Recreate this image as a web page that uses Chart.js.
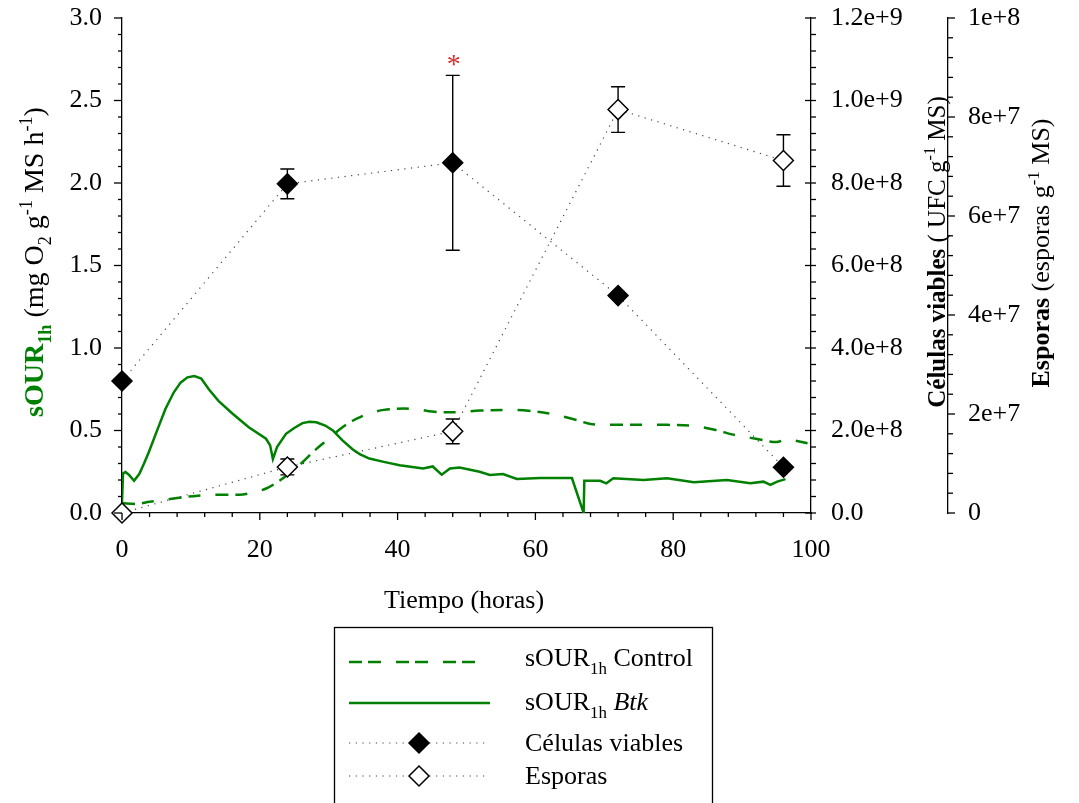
<!DOCTYPE html>
<html>
<head>
<meta charset="utf-8">
<script src="https://cdn.jsdelivr.net/npm/chart.js@4.4.1/dist/chart.umd.min.js"></script>
<style>
  html, body { margin: 0; padding: 0; background: #fff; }
  canvas { display: block; }
</style>
</head>
<body>
<canvas id="chart" width="1079" height="803"></canvas>
<script>
// sOUR1h control (dashed line)
var controlTime = [0, 2, 4, 7, 11, 14, 17, 19, 21, 23, 24, 26, 28, 30, 32, 34, 36, 38, 41, 43, 45, 48, 52, 56, 59, 62, 64, 66, 68, 70, 80, 83, 86, 89, 92, 95, 96.5, 97.5, 99.5];
var controlValue = [0.06, 0.055, 0.068, 0.085, 0.105, 0.11, 0.11, 0.125, 0.15, 0.2, 0.23, 0.3, 0.38, 0.45, 0.52, 0.57, 0.605, 0.625, 0.633, 0.628, 0.615, 0.61, 0.621, 0.625, 0.62, 0.603, 0.585, 0.563, 0.54, 0.535, 0.534, 0.528, 0.505, 0.472, 0.45, 0.43, 0.448, 0.44, 0.423];

// sOUR1h Btk (solid line)
var btkTime = [0, 0.15, 0.5, 1, 1.75, 2.5, 3.2, 3.9, 5, 6.3, 7.5, 8.5, 9.5, 10.5, 11.5, 12.6, 14, 16.1, 18.4, 20.9, 21.5, 21.9, 22.5, 23.8, 25, 26.2, 27.2, 28.2, 29.5, 30.6, 32, 33.5, 34.5, 35.9, 38, 40.3, 43.7, 45.1, 46.4, 47.6, 49, 51.9, 53.4, 55.3, 57.3, 60.7, 65.3, 67, 67.1, 69.4, 70.3, 71.3, 75.7, 79.1, 83, 87.8, 91.2, 93.1, 94.1, 95.1, 96.3];
var btkValue = [0.065, 0.24, 0.248, 0.232, 0.195, 0.236, 0.3, 0.37, 0.49, 0.63, 0.73, 0.79, 0.822, 0.83, 0.815, 0.75, 0.68, 0.6, 0.52, 0.45, 0.41, 0.327, 0.4, 0.48, 0.515, 0.545, 0.553, 0.55, 0.53, 0.5, 0.44, 0.385, 0.357, 0.33, 0.31, 0.29, 0.27, 0.282, 0.232, 0.27, 0.276, 0.25, 0.23, 0.236, 0.206, 0.212, 0.212, 0.0, 0.195, 0.195, 0.18, 0.21, 0.2, 0.21, 0.186, 0.2, 0.18, 0.19, 0.17, 0.19, 0.205];

// sampled points
var sampleTime = [0, 24, 48, 72, 96];
var cellValue = [3.2e8, 7.98e8, 8.49e8, 5.27e8, 1.11e8];
var cellError = [0, 0.36e8, 2.12e8, 0, 0];
var sporeValue = [0, 9.3e6, 1.65e7, 8.15e7, 7.12e7];
var sporeError = [0, 1.6e6, 2.5e6, 4.6e6, 5.2e6];

var xTicks = [0, 20, 40, 60, 80, 100];

var green = '#008000';
var dotColor = '#3c4a3c';
var serif = "'Liberation Serif', 'Times New Roman', Times, serif";

function toPoints(xs, ys) {
  var out = [];
  for (var i = 0; i < xs.length; i++) out.push({ x: xs[i], y: ys[i] });
  return out;
}

function setFont(ctx, size, bold, italic) {
  ctx.font = (italic ? 'italic ' : '') + (bold ? 'bold ' : '') + size + 'px ' + serif;
}

function richWidth(ctx, parts, size) {
  var w = 0;
  parts.forEach(function(p) {
    var s = (p.sub || p.sup) ? size * 0.65 : size;
    setFont(ctx, s, p.b, p.i);
    w += ctx.measureText(p.t).width;
  });
  return w;
}

function drawRich(ctx, parts, x, y, size) {
  ctx.textAlign = 'left';
  ctx.textBaseline = 'alphabetic';
  parts.forEach(function(p) {
    var s = (p.sub || p.sup) ? size * 0.65 : size;
    setFont(ctx, s, p.b, p.i);
    ctx.fillStyle = p.c || '#000';
    var dy = p.sub ? size * 0.3 : (p.sup ? -size * 0.4 : 0);
    ctx.fillText(p.t, x, y + dy);
    x += ctx.measureText(p.t).width;
  });
}

function drawRotated(ctx, parts, baseX, centerY, size) {
  var w = richWidth(ctx, parts, size);
  ctx.save();
  ctx.translate(baseX, centerY);
  ctx.rotate(-Math.PI / 2);
  drawRich(ctx, parts, -w / 2, 0, size);
  ctx.restore();
}

function diamond(ctx, x, y, r, fill) {
  ctx.beginPath();
  ctx.moveTo(x, y - r);
  ctx.lineTo(x + r, y);
  ctx.lineTo(x, y + r);
  ctx.lineTo(x - r, y);
  ctx.closePath();
  ctx.fillStyle = fill;
  ctx.fill();
  ctx.lineWidth = 1.5;
  ctx.strokeStyle = '#000';
  ctx.stroke();
}

// tick marks (major + minor) on each axis
function axisTicks(ctx, scale, major, minorDiv, side) {
  var minor = major / minorDiv;
  ctx.strokeStyle = '#000';
  ctx.lineWidth = 1.3;
  var n = Math.round((scale.max - scale.min) / minor);
  for (var i = 0; i <= n; i++) {
    var v = scale.min + i * minor;
    var isMajor = i % minorDiv === 0;
    var p = scale.getPixelForValue(v);
    ctx.beginPath();
    if (side === 'bottom') {
      ctx.moveTo(p, scale.top);
      ctx.lineTo(p, scale.top + (isMajor ? 7 : 4));
    } else if (side === 'left') {
      ctx.moveTo(scale.right, p);
      ctx.lineTo(scale.right - (isMajor ? 8 : 4), p);
    } else if (side === 'right1') {
      ctx.moveTo(scale.left + (isMajor ? -6 : 0), p);
      ctx.lineTo(scale.left + 5, p);
    } else {
      ctx.moveTo(scale.left, p);
      ctx.lineTo(scale.left + (isMajor ? 7 : 5), p);
    }
    ctx.stroke();
  }
}

var errorBars = {
  id: 'errorBars',
  beforeDatasetsDraw: function(chart) {
    var ctx = chart.ctx;
    var x = chart.scales.x;
    var sets = [[chart.scales.y1, cellValue, cellError], [chart.scales.y2, sporeValue, sporeError]];
    ctx.save();
    ctx.strokeStyle = '#000';
    ctx.lineWidth = 1.4;
    sets.forEach(function(s) {
      for (var i = 0; i < sampleTime.length; i++) {
        if (!s[2][i]) continue;
        var px = x.getPixelForValue(sampleTime[i]);
        var top = s[0].getPixelForValue(s[1][i] + s[2][i]);
        var bot = s[0].getPixelForValue(s[1][i] - s[2][i]);
        ctx.beginPath();
        ctx.moveTo(px, top); ctx.lineTo(px, bot);
        ctx.moveTo(px - 7, top); ctx.lineTo(px + 7, top);
        ctx.moveTo(px - 7, bot); ctx.lineTo(px + 7, bot);
        ctx.stroke();
      }
    });
    ctx.restore();
  },
  afterDraw: function(chart) {
    var ctx = chart.ctx;
    ctx.save();
    axisTicks(ctx, chart.scales.x, 20, 5, 'bottom');
    axisTicks(ctx, chart.scales.y, 0.5, 5, 'left');
    axisTicks(ctx, chart.scales.y1, 2e8, 5, 'right1');
    axisTicks(ctx, chart.scales.y2, 2e7, 5, 'right2');

    // significance mark above the 48 h error bar
    var ax = chart.scales.x.getPixelForValue(48);
    var ay = chart.scales.y1.getPixelForValue(cellValue[2] + cellError[2]);
    setFont(ctx, 28, false, false);
    ctx.fillStyle = '#d42a2a';
    ctx.textAlign = 'center';
    ctx.textBaseline = 'alphabetic';
    ctx.fillText('*', ax + 1, ay - 2);

    // axis titles
    drawRotated(ctx, [
      { t: 'sOUR', b: true, c: green }, { t: '1h', b: true, c: green, sub: true },
      { t: ' (mg O' }, { t: '2', sub: true }, { t: ' g' }, { t: '-1', sup: true },
      { t: ' MS h' }, { t: '-1', sup: true }, { t: ')' }
    ], 43, 262, 28);
    drawRotated(ctx, [
      { t: 'Células viables', b: true }, { t: ' ( UFC g' }, { t: '-1', sup: true }, { t: ' MS)' }
    ], 945, 252, 25);
    drawRotated(ctx, [
      { t: 'Esporas', b: true }, { t: ' (esporas g' }, { t: '-1', sup: true }, { t: ' MS)' }
    ], 1049, 253, 26);

    setFont(ctx, 26, false, false);
    ctx.fillStyle = '#000';
    ctx.textAlign = 'center';
    ctx.fillText('Tiempo (horas)', 464, 608);

    // legend box
    ctx.lineWidth = 1.3;
    ctx.strokeStyle = '#000';
    ctx.strokeRect(334.5, 627.5, 378, 200);

    ctx.strokeStyle = green;
    ctx.lineWidth = 2.5;
    ctx.setLineDash([13, 6, 13, 15]);
    ctx.beginPath(); ctx.moveTo(349, 662); ctx.lineTo(476, 662); ctx.stroke();
    ctx.setLineDash([]);
    ctx.beginPath(); ctx.moveTo(349, 703); ctx.lineTo(490, 703); ctx.stroke();

    ctx.strokeStyle = dotColor;
    ctx.lineWidth = 1.2;
    ctx.setLineDash([1.2, 5.5]);
    ctx.beginPath(); ctx.moveTo(349, 743); ctx.lineTo(488, 743); ctx.stroke();
    ctx.beginPath(); ctx.moveTo(349, 776); ctx.lineTo(488, 776); ctx.stroke();
    ctx.setLineDash([]);
    diamond(ctx, 419, 743, 10, '#000');
    diamond(ctx, 419, 776, 10, '#fff');

    drawRich(ctx, [{ t: 'sOUR' }, { t: '1h', sub: true }, { t: ' Control' }], 525, 666, 26);
    drawRich(ctx, [{ t: 'sOUR' }, { t: '1h', sub: true }, { t: ' ' }, { t: 'Btk', i: true }], 525, 710, 26);
    drawRich(ctx, [{ t: 'Células viables' }], 525, 751, 26);
    drawRich(ctx, [{ t: 'Esporas' }], 525, 784, 26);
    ctx.restore();
  }
};

var tickFont = { family: serif, size: 26 };
var axisBorder = { display: true, color: '#000', width: 1.3 };

// fixed axis sizes so the plot area sits where the original has it
function fixWidth(w) {
  return function(s) { s.width = w; s.paddingTop = 0; s.paddingBottom = 0; };
}

new Chart(document.getElementById('chart'), {
  type: 'line',
  data: {
    datasets: [
      {
        label: 'Células viables',
        data: toPoints(sampleTime, cellValue),
        yAxisID: 'y1',
        clip: false,
        borderColor: dotColor,
        borderWidth: 1.2,
        borderDash: [1.2, 5.5],
        pointStyle: 'rectRot',
        pointRadius: 10,
        pointBackgroundColor: '#000',
        pointBorderColor: '#000',
        pointBorderWidth: 1.5
      },
      {
        label: 'Esporas',
        data: toPoints(sampleTime, sporeValue),
        yAxisID: 'y2',
        clip: false,
        borderColor: dotColor,
        borderWidth: 1.2,
        borderDash: [1.2, 5.5],
        pointStyle: 'rectRot',
        pointRadius: 10,
        pointBackgroundColor: '#fff',
        pointBorderColor: '#000',
        pointBorderWidth: 1.5
      },
      {
        label: 'sOUR1h Btk',
        data: toPoints(btkTime, btkValue),
        yAxisID: 'y',
        borderColor: green,
        borderWidth: 2.5,
        pointRadius: 0,
        tension: 0
      },
      {
        label: 'sOUR1h Control',
        data: toPoints(controlTime, controlValue),
        yAxisID: 'y',
        borderColor: green,
        borderWidth: 2.5,
        borderDash: [13, 7, 12, 15],
        pointRadius: 0,
        cubicInterpolationMode: 'monotone'
      }
    ]
  },
  options: {
    responsive: false,
    animation: false,
    layout: { padding: { top: 18, bottom: 200, left: 0, right: 0 } },
    plugins: { legend: { display: false }, tooltip: { enabled: false } },
    scales: {
      x: {
        type: 'linear', position: 'bottom', min: 0, max: 100,
        grid: { display: false, drawTicks: false },
        border: axisBorder,
        afterBuildTicks: function(s) { s.ticks = xTicks.map(function(v) { return { value: v }; }); },
        ticks: { font: tickFont, color: '#000', padding: 22, maxRotation: 0, autoSkip: false },
        afterFit: function(s) { s.height = 90; s.paddingLeft = 0; s.paddingRight = 0; }
      },
      y: {
        position: 'left', min: 0, max: 3,
        grid: { display: false, drawTicks: false },
        border: axisBorder,
        ticks: { stepSize: 0.5, font: tickFont, color: '#000', padding: 20,
          callback: function(v) { return v.toFixed(1); } },
        afterFit: fixWidth(122)
      },
      y1: {
        position: 'right', min: 0, max: 1.2e9,
        grid: { display: false, drawTicks: false },
        border: axisBorder,
        ticks: { stepSize: 2e8, font: tickFont, color: '#000', padding: 20,
          callback: function(v) { return v === 0 ? '0.0' : Number(v).toExponential(1); } },
        afterFit: fixWidth(137)
      },
      y2: {
        position: 'right', min: 0, max: 1e8,
        grid: { display: false, drawTicks: false },
        border: axisBorder,
        ticks: { stepSize: 2e7, font: tickFont, color: '#000', padding: 20,
          callback: function(v) { return v === 0 ? '0' : Number(v).toExponential(0); } },
        afterFit: fixWidth(131)
      }
    }
  },
  plugins: [errorBars]
});
</script>
</body>
</html>
